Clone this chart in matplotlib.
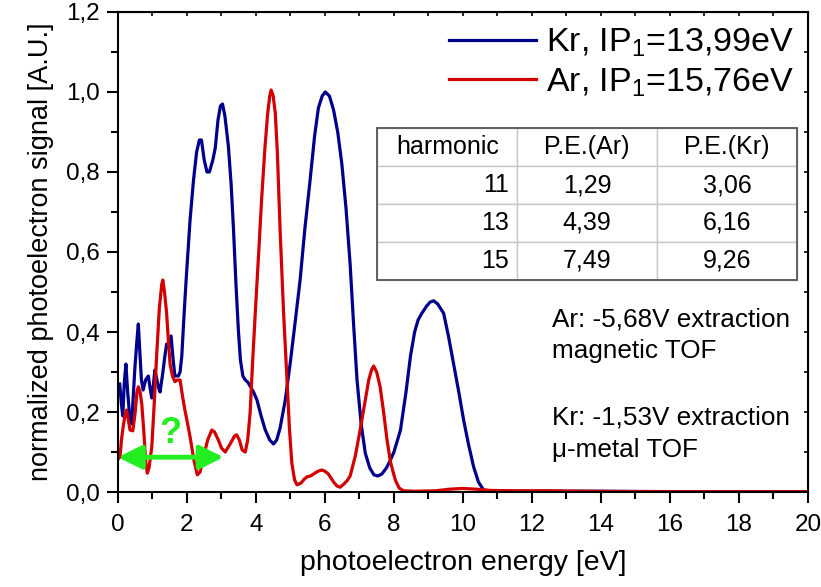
import numpy as np
import matplotlib
matplotlib.use("Agg")
import matplotlib.pyplot as plt
from matplotlib.ticker import MultipleLocator
from matplotlib.patches import Rectangle

# Kr spectrum (photoelectron energy [eV], normalized signal)
kr_energy = [0.05, 0.10, 0.14, 0.18, 0.23, 0.28, 0.33, 0.40, 0.45, 0.49, 0.55, 0.59,
             0.64, 0.68, 0.73, 0.80, 0.88, 0.93, 0.98, 1.03, 1.07, 1.13, 1.18, 1.22,
             1.27, 1.31, 1.36, 1.41, 1.47, 1.54, 1.60, 1.65, 1.75, 1.80, 1.85, 1.92,
             1.99, 2.09, 2.19, 2.28, 2.36, 2.42, 2.50, 2.58, 2.65, 2.75, 2.82, 2.90,
             2.97, 3.03, 3.10, 3.20, 3.28, 3.35, 3.42, 3.49, 3.55, 3.62, 3.69, 3.76,
             3.83, 3.93, 4.03, 4.15, 4.27, 4.40, 4.51, 4.60, 4.70, 4.85, 4.99, 5.13,
             5.28, 5.42, 5.57, 5.70, 5.81, 5.92, 6.01, 6.13, 6.25, 6.37, 6.49, 6.61,
             6.73, 6.83, 6.93, 7.05, 7.17, 7.30, 7.42, 7.53, 7.65, 7.78, 7.90, 8.00,
             8.19, 8.35, 8.48, 8.60, 8.70, 8.81, 8.95, 9.05, 9.15, 9.27, 9.38, 9.44,
             9.58, 9.73, 9.88, 10.02, 10.16, 10.31, 10.45, 10.60, 10.8, 12.0, 14.0,
             16.0, 18.0, 20.0]
kr_signal = [0.27, 0.22, 0.19, 0.27, 0.32, 0.25, 0.20, 0.17, 0.25, 0.31, 0.38, 0.42,
             0.34, 0.28, 0.255, 0.28, 0.29, 0.26, 0.235, 0.27, 0.305, 0.28, 0.26, 0.25,
             0.28, 0.305, 0.34, 0.37, 0.36, 0.39, 0.33, 0.29, 0.29, 0.30, 0.34, 0.45,
             0.55, 0.68, 0.78, 0.85, 0.88, 0.88, 0.83, 0.80, 0.80, 0.83, 0.86, 0.93,
             0.965, 0.97, 0.94, 0.865, 0.77, 0.655, 0.52, 0.405, 0.33, 0.29, 0.28, 0.275,
             0.265, 0.25, 0.23, 0.19, 0.155, 0.13, 0.12, 0.13, 0.16, 0.23, 0.32, 0.42,
             0.53, 0.66, 0.78, 0.89, 0.96, 0.99, 1.00, 0.99, 0.955, 0.90, 0.82, 0.71,
             0.57, 0.42, 0.28, 0.17, 0.097, 0.06, 0.043, 0.04, 0.045, 0.06, 0.08, 0.10,
             0.155, 0.25, 0.34, 0.40, 0.43, 0.447, 0.465, 0.475, 0.478, 0.47, 0.455, 0.447,
             0.39, 0.32, 0.25, 0.18, 0.12, 0.063, 0.025, 0.005, 0.002, 0.002, 0.002,
             0.001, 0.001, 0.001]

# Ar spectrum
ar_energy = [0.03, 0.06, 0.10, 0.15, 0.20, 0.25, 0.30, 0.35, 0.43, 0.50, 0.55, 0.59,
             0.64, 0.69, 0.75, 0.80, 0.85, 0.90, 0.98, 1.05, 1.12, 1.20, 1.27, 1.30,
             1.35, 1.41, 1.46, 1.51, 1.58, 1.65, 1.72, 1.80, 1.87, 1.94, 2.02, 2.09,
             2.20, 2.30, 2.38, 2.48, 2.60, 2.72, 2.80, 2.91, 3.00, 3.11, 3.25, 3.38,
             3.44, 3.52, 3.60, 3.69, 3.76, 3.83, 3.90, 3.98, 4.08, 4.17, 4.26, 4.34,
             4.40, 4.44, 4.50, 4.56, 4.62, 4.70, 4.80, 4.90, 4.97, 5.04, 5.12, 5.19,
             5.30, 5.40, 5.48, 5.58, 5.67, 5.80, 5.91, 6.00, 6.10, 6.25, 6.35, 6.44,
             6.55, 6.64, 6.73, 6.88, 7.02, 7.15, 7.27, 7.35, 7.41, 7.50, 7.60, 7.70,
             7.80, 7.90, 8.04, 8.15, 8.28, 8.6, 9.2, 9.6, 10.0, 10.4, 10.8, 11.5,
             12.5, 13.5, 15.0, 17.0, 20.0]
ar_signal = [0.085, 0.088, 0.13, 0.163, 0.19, 0.205, 0.18, 0.155, 0.153, 0.20, 0.25, 0.263,
             0.25, 0.22, 0.15, 0.08, 0.047, 0.06, 0.113, 0.22, 0.34, 0.46, 0.52, 0.53,
             0.50, 0.447, 0.38, 0.32, 0.29, 0.276, 0.28, 0.28, 0.24, 0.205, 0.17, 0.138,
             0.08, 0.043, 0.05, 0.088, 0.13, 0.155, 0.15, 0.13, 0.11, 0.10, 0.12, 0.14,
             0.143, 0.13, 0.105, 0.10, 0.13, 0.197, 0.32, 0.447, 0.60, 0.74, 0.86, 0.947,
             0.99, 1.005, 0.99, 0.947, 0.85, 0.655, 0.45, 0.28, 0.16, 0.072, 0.03, 0.018,
             0.022, 0.032, 0.038, 0.04, 0.045, 0.052, 0.055, 0.052, 0.045, 0.025, 0.015, 0.012,
             0.02, 0.028, 0.04, 0.09, 0.155, 0.22, 0.28, 0.305, 0.315, 0.30, 0.263, 0.20,
             0.13, 0.075, 0.03, 0.01, 0.003, 0.002, 0.003, 0.007, 0.009, 0.007, 0.004, 0.003,
             0.003, 0.002, 0.001, 0.001, 0.001]

kr_label = "Kr, IP$_\\mathregular{1}$=13,99eV"
ar_label = "Ar, IP$_\\mathregular{1}$=15,76eV"

table_header = ["harmonic", "P.E.(Ar)", "P.E.(Kr)"]
harmonics = ["11", "13", "15"]
pe_ar = ["1,29", "4,39", "7,49"]
pe_kr = ["3,06", "6,16", "9,26"]

notes = ["Ar: -5,68V extraction", "magnetic TOF", "Kr: -1,53V extraction", "\u03bc-metal TOF"]

# green "?" arrow (energy range, height)
arrow_x0, arrow_x1, arrow_y = 0.0, 3.06, 0.087

xticks = [0, 2, 4, 6, 8, 10, 12, 14, 16, 18, 20]
yticks = [0.0, 0.2, 0.4, 0.6, 0.8, 1.0, 1.2]
ytick_labels = ["0,0", "0,2", "0,4", "0,6", "0,8", "1,0", "1,2"]

plt.rcParams["font.family"] = ["Liberation Sans", "DejaVu Sans"]
plt.rcParams["mathtext.fontset"] = "custom"
plt.rcParams["mathtext.rm"] = "Liberation Sans"

fig = plt.figure(figsize=(8.21, 5.87), dpi=100)
ax = fig.add_axes([0.1437, 0.1618, 0.8403, 0.8178])

ax.plot(kr_energy, kr_signal, color="#00008c", lw=2.3, label=kr_label)
ax.plot(ar_energy, ar_signal, color="#d20000", lw=2.3, label=ar_label)

ax.set_xlim(0, 20)
ax.set_ylim(0, 1.2)
ax.set_xticks(xticks)
ax.set_yticks(yticks)
ax.set_yticklabels(ytick_labels)
ax.xaxis.set_minor_locator(MultipleLocator(1))
ax.yaxis.set_minor_locator(MultipleLocator(0.1))
ax.tick_params(which="major", direction="out", length=8, width=1.5, labelsize=17.5)
ax.tick_params(axis="x", which="major", pad=8)
ax.tick_params(axis="y", which="major", pad=5)
ax.tick_params(which="minor", direction="out", length=5, width=1.5)
for s in ax.spines.values():
    s.set_linewidth(1.5)

# inward ticks on the top and right edges
sec_x = ax.secondary_xaxis("top")
sec_x.set_xticks(xticks)
sec_x.xaxis.set_minor_locator(MultipleLocator(1))
sec_x.tick_params(which="both", direction="in", length=3, width=1.2, labeltop=False)
sec_y = ax.secondary_yaxis("right")
sec_y.set_yticks(yticks)
sec_y.yaxis.set_minor_locator(MultipleLocator(0.1))
sec_y.tick_params(which="both", direction="in", length=3, width=1.2, labelright=False)

ax.set_xlabel("photoelectron energy [eV]", fontsize=20.5, labelpad=10)
ax.set_ylabel("normalized photoelectron signal [A.U.]", fontsize=19.5, labelpad=9)

leg = ax.legend(loc="upper right", bbox_to_anchor=(1.005, 1.005), frameon=False,
                fontsize=24.5, handlelength=2.55, handletextpad=0.3,
                labelspacing=0.2, borderaxespad=0.1)
for line in leg.get_lines():
    line.set_linewidth(2.3)

# table of photoelectron energies
rows = [table_header] + [[h, a, k] for h, a, k in zip(harmonics, pe_ar, pe_kr)]
tab = ax.table(cellText=rows, bbox=[0.376, 0.442, 0.608, 0.316], cellLoc="center")
tab.auto_set_font_size(False)
for (r, c), cell in tab.get_celld().items():
    cell.set_edgecolor("#c8c8c8")
    cell.set_linewidth(1.0)
    cell.set_facecolor("white")
    cell.get_text().set_fontsize(18)
    if r > 0 and c == 0:
        cell.get_text().set_horizontalalignment("right")
        cell._loc = "right"
        cell.PAD = 0.06
ax.add_patch(Rectangle((0.376, 0.442), 0.608, 0.316, transform=ax.transAxes,
                       fill=False, edgecolor="#555555", lw=1.3, zorder=10))

note_y = [0.344, 0.279, 0.140, 0.0735]
for txt, yy in zip(notes, note_y):
    ax.text(0.629, yy, txt, transform=ax.transAxes, fontsize=18.8, va="baseline", ha="left")

ax.annotate("", xy=(arrow_x0, arrow_y), xytext=(arrow_x1, arrow_y),
            arrowprops=dict(arrowstyle="<|-|>", color="#22ee22", lw=3.5,
                            mutation_scale=36, shrinkA=0, shrinkB=0))
ax.text((arrow_x0 + arrow_x1) / 2, arrow_y + 0.015, "?", color="#22ee22",
        fontsize=26, fontweight="bold", ha="center", va="bottom")

fig.savefig("out.png", dpi=100)
